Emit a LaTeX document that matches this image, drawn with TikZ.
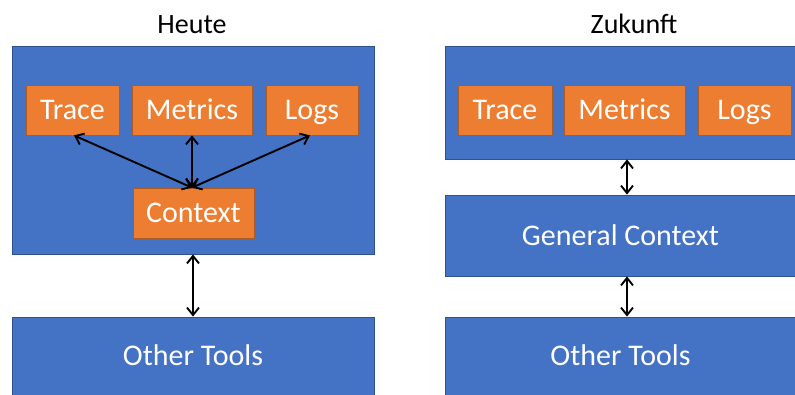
\documentclass[tikz,border=0pt]{standalone}
\usepackage{fontspec}
\setmainfont{Carlito}
\usetikzlibrary{arrows.meta,calc}
\definecolor{boxblue}{HTML}{4472C4}
\definecolor{boxblueline}{HTML}{2F528F}
\definecolor{boxorange}{HTML}{ED7D31}
\definecolor{boxorangeline}{HTML}{AE5A21}
\tikzset{
  boxtext/.style={inner sep=0pt, text=white, font=\fontsize{30}{36}\selectfont,
    text height=19.3pt, text depth=0pt},
  bluebox/.style={boxtext, draw=boxblueline, line width=0.8pt, fill=boxblue},
  orangebox/.style={boxtext, draw=boxorangeline, line width=0.8pt, fill=boxorange},
  title/.style={inner sep=0pt, text=black, font=\fontsize{28}{34}\selectfont},
  link/.style={line width=1.9pt, {Straight Barb[length=7.5pt,width=12pt]}-{Straight Barb[length=7.5pt,width=12pt]}}
}
\begin{document}
\begin{tikzpicture}[x=1pt,y=-1pt]
\useasboundingbox (0,0) rectangle (795,394);

% Today
\node[title, anchor=base] (heute) at (192,33) {Heute};
\node[bluebox, minimum width=362pt, minimum height=208pt] (lframe) at (193,150) {};
\node[orangebox, minimum width=93pt, minimum height=50pt] (ltrace) at (72.5,110) {Trace};
\node[orangebox, minimum width=120pt, minimum height=50pt] (lmetrics) at (192,110) {Metrics};
\node[orangebox, minimum width=92pt, minimum height=50pt] (llogs) at (312,110) {Logs};
\node[orangebox, minimum width=121pt, minimum height=50pt] (lctx) at (193.5,213) {Context};
\node[bluebox, minimum width=362pt, minimum height=78pt] (ltools) at (193,356) {Other Tools};

\draw[link] ([xshift=1.5pt]ltrace.south) -- ([xshift=-1.5pt]lctx.north);
\draw[link] (lmetrics.south) -- ([xshift=-1.5pt]lctx.north);
\draw[link] ([xshift=-2pt]llogs.south) -- ([xshift=-1.5pt]lctx.north);
\draw[link] (lframe.south) -- (ltools.north);

% Future
\node[title, anchor=base] (zukunft) at (634,33) {Zukunft};
\node[bluebox, minimum width=351pt, minimum height=113pt] (rframe) at (620.5,102.5) {};
\node[orangebox, minimum width=94pt, minimum height=50pt] (rtrace) at (505,110) {Trace};
\node[orangebox, minimum width=121pt, minimum height=50pt] (rmetrics) at (624.5,110) {Metrics};
\node[orangebox, minimum width=93pt, minimum height=50pt] (rlogs) at (744.5,110) {Logs};
\node[bluebox, minimum width=351pt, minimum height=81pt] (rctx) at (620.5,235.5) {General Context};
\node[bluebox, minimum width=351pt, minimum height=78pt] (rtools) at (620.5,356) {Other Tools};

\draw[link] ([xshift=6.5pt]rframe.south) -- ([xshift=6.5pt]rctx.north);
\draw[link] ([xshift=6.5pt]rctx.south) -- ([xshift=6.5pt]rtools.north);
\end{tikzpicture}
\end{document}
